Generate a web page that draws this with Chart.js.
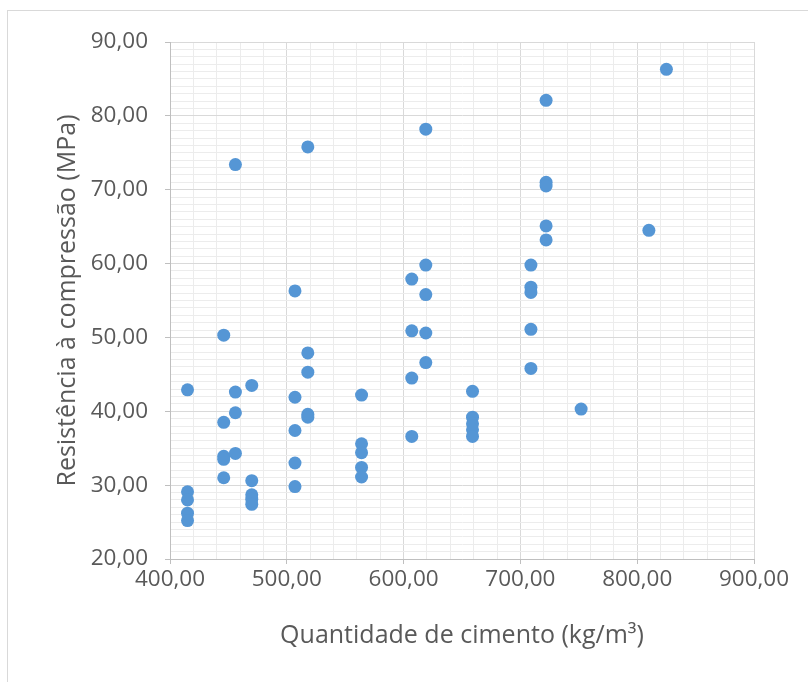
<!DOCTYPE html>
<html>
<head>
<meta charset="utf-8">
<script src="https://cdn.jsdelivr.net/npm/chart.js@4/dist/chart.umd.min.js"></script>
<style>
  html, body { margin: 0; padding: 0; background: #fff; overflow: hidden; }
  #frame { position: absolute; left: 7px; top: 10px; width: 900px; height: 800px; border: 1px solid #d9d9d9; }
  #chart { position: absolute; left: 0; top: 0; }
</style>
</head>
<body>
<div id="frame"></div>
<canvas id="chart" width="808" height="682"></canvas>
<script>
// cement content (kg/m3) and compressive strength (MPa)
const cimento = [
    415, 415, 415, 415, 415,
    446, 446, 446, 446, 446,
    456, 456, 456, 456,
    470, 470, 470, 470, 470,
    507, 507, 507, 507, 507,
    518, 518, 518, 518, 518,
    564, 564, 564, 564, 564,
    607, 607, 607, 607,
    619, 619, 619, 619, 619,
    659, 659, 659, 659, 659,
    709, 709, 709, 709, 709,
    722, 722, 722, 722, 722,
    752, 810, 825
];
const resistencia = [
    42.9, 29.1, 28.0, 26.2, 25.2,
    50.3, 38.5, 33.9, 33.5, 31.0,
    73.4, 42.6, 39.8, 34.3,
    43.5, 30.6, 28.7, 28.1, 27.4,
    56.3, 41.9, 37.4, 33.0, 29.8,
    75.8, 47.9, 45.3, 39.6, 39.2,
    42.2, 35.6, 34.4, 32.4, 31.1,
    57.9, 50.9, 44.5, 36.6,
    78.2, 59.8, 55.8, 50.6, 46.6,
    42.7, 39.2, 38.3, 37.5, 36.6,
    59.8, 56.8, 56.1, 51.1, 45.8,
    82.1, 71.0, 70.5, 65.1, 63.2,
    40.3, 64.5, 86.3
];

const xTicks = [400, 500, 600, 700, 800, 900];
const xTickLabels = ['400,00', '500,00', '600,00', '700,00', '800,00', '900,00'];
const yTicks = [20, 30, 40, 50, 60, 70, 80, 90];
const yTickLabels = ['20,00', '30,00', '40,00', '50,00', '60,00', '70,00', '80,00', '90,00'];

const textColor = '#595959';
const fontFamily = "'Open Sans', sans-serif";

function labelFor(ticks, labels) {
    return (v) => {
        let i = ticks.indexOf(v);
        return i >= 0 ? labels[i] : '';
    };
}
// major lines darker, the minor ones in between very light
function gridColor(ticks) {
    return (ctx) => ticks.includes(ctx.tick.value) ? '#d9d9d9' : '#ececec';
}
function tickColor(ticks) {
    return (ctx) => ticks.includes(ctx.tick.value) ? '#bfbfbf' : 'rgba(0,0,0,0)';
}

let points = cimento.map((x, i) => ({ x: x, y: resistencia[i] }));

new Chart(document.getElementById('chart').getContext('2d'), {
    type: 'scatter',
    data: {
        datasets: [{
            data: points,
            backgroundColor: '#5596d5',
            borderColor: '#5596d5',
            borderWidth: 0,
            pointRadius: 6.5,
            pointHoverRadius: 6.5
        }]
    },
    options: {
        responsive: false,
        animation: false,
        layout: { padding: { left: 53, top: 42, right: 54, bottom: 0 } },
        plugins: { legend: { display: false }, tooltip: { enabled: false } },
        scales: {
            x: {
                type: 'linear',
                min: 400,
                max: 900,
                afterFit: (scale) => { scale.height = 123; },
                border: { color: '#bfbfbf' },
                grid: { color: gridColor(xTicks), tickColor: tickColor(xTicks), tickLength: 5 },
                ticks: {
                    stepSize: 20,
                    autoSkip: false,
                    maxRotation: 0,
                    padding: 2,
                    color: textColor,
                    font: { family: fontFamily, size: 22.5 },
                    callback: labelFor(xTicks, xTickLabels)
                },
                title: {
                    display: true,
                    text: 'Quantidade de cimento (kg/m³)',
                    color: textColor,
                    font: { family: fontFamily, size: 25 },
                    padding: { top: 0, bottom: 31 }
                }
            },
            y: {
                type: 'linear',
                min: 20,
                max: 90,
                afterFit: (scale) => { scale.width = 117; },
                border: { color: '#bfbfbf' },
                grid: { color: gridColor(yTicks), tickColor: tickColor(yTicks), tickLength: 5 },
                ticks: {
                    stepSize: 1,
                    autoSkip: false,
                    padding: 17,
                    color: textColor,
                    font: { family: fontFamily, size: 22.5 },
                    callback: labelFor(yTicks, yTickLabels)
                },
                title: {
                    display: true,
                    text: 'Resistência à compressão (MPa)',
                    color: textColor,
                    font: { family: fontFamily, size: 25 },
                    padding: { top: 0, bottom: 0 }
                }
            }
        }
    }
});
</script>
</body>
</html>
